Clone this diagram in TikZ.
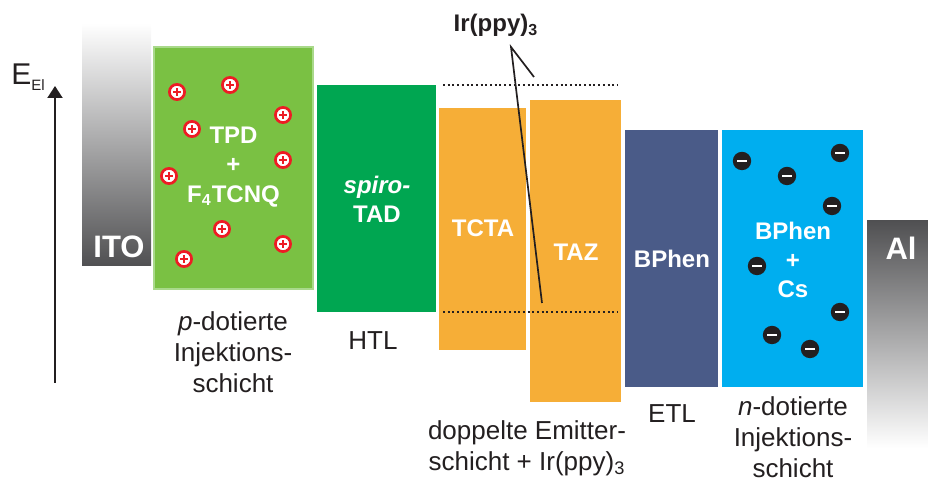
\documentclass[tikz,border=0pt]{standalone}
\usepackage{fontspec}
\setmainfont{Liberation Sans}
\usepackage{xcolor}
\usepackage{tikz}
\usetikzlibrary{arrows.meta}
\definecolor{ink}{HTML}{231F20}
\definecolor{injp}{HTML}{7AC143}
\definecolor{injpedge}{HTML}{A9D98B}
\definecolor{htl}{HTML}{00A651}
\definecolor{eml}{HTML}{F6AE37}
\definecolor{etl}{HTML}{4A5B88}
\definecolor{injn}{HTML}{00AEEF}
\definecolor{metal}{HTML}{505052}
\definecolor{charge}{HTML}{ED1C24}
\tikzset{
  ptype/.style={fill=injp, draw=injpedge, line width=0.6pt},
  inlab/.style={text=white, font=\fontsize{12}{14.6}\selectfont\bfseries, align=center, inner sep=0pt},
  ellab/.style={text=white, font=\fontsize{15.5}{18}\selectfont\bfseries, inner sep=0pt},
  lab/.style={text=ink, font=\fontsize{13}{15.5}\selectfont, align=center, inner sep=0pt},
  level/.style={draw=ink, line width=1pt, dash pattern=on 1pt off 1.35pt},
  pointer/.style={draw=ink, line width=0.85pt},
  axis/.style={draw=ink, line width=1pt, -{Triangle[width=7.5pt,length=6pt]}},
  hole/.style={circle, draw=charge, fill=white, line width=1.35pt, minimum size=7.6pt, inner sep=0pt,
    path picture={
      \draw[charge, line width=1pt]
        ([xshift=-2pt]path picture bounding box.center) -- ([xshift=2pt]path picture bounding box.center)
        ([yshift=-2pt]path picture bounding box.center) -- ([yshift=2pt]path picture bounding box.center);
    }},
  electron/.style={circle, fill=ink, minimum size=9.2pt, inner sep=0pt,
    path picture={
      \fill[white] ([xshift=-2.5pt,yshift=-0.7pt]path picture bounding box.center)
        rectangle ([xshift=2.5pt,yshift=0.7pt]path picture bounding box.center);
    }}
}

\begin{document}
\begin{tikzpicture}[x=0.5pt, y=-0.5pt]
  \useasboundingbox (0,0) rectangle (928,480);

  % energy axis
  \coordinate (ebot) at (55,383);
  \coordinate (etop) at (55,86);
  \draw[axis] (ebot) -- (etop);
  \node[text=ink, font=\fontsize{15}{17}\selectfont, anchor=base west, inner sep=0pt] (elab) at (11,85)
    {E{\fontsize{7.5}{8}\selectfont\raisebox{-3pt}{El}}};

  % electrodes
  \shade[top color=white, bottom color=metal] (82,23) rectangle (151,266);
  \shade[top color=metal, bottom color=white] (867,221) rectangle (928,448);
  \node[ellab] (ito) at (119,247) {ITO};
  \node[ellab] (al) at (901,248) {Al};

  % organic layers
  \fill[ptype] (154,47) rectangle (313,289);
  \fill[htl] (317,85) rectangle (436,312);
  \fill[eml] (439,108) rectangle (526,350);
  \fill[eml] (530,100) rectangle (621,402);
  \fill[etl] (625,130) rectangle (718,387);
  \fill[injn] (722,130) rectangle (863,387);

  \node[inlab] (tpd) at (233.5,167) {TPD\\+\\F\textsubscript{4}TCNQ};
  \node[inlab] (spiro) at (377,199) {\itshape spiro-\\TAD};
  \node[inlab] (tcta) at (483,228) {TCTA};
  \node[inlab] (taz) at (576,252) {TAZ};
  \node[inlab] (bphen) at (672,259) {BPhen};
  \node[inlab] (bphencs) at (793,260) {BPhen\\+\\Cs};

  % dopant charges
  \foreach \p [count=\i] in {(177,92),(230,85),(283,115),(192,129),(283,160),
                             (169,176),(222,229),(283,244),(184,259)}
    \node[hole] (h\i) at \p {};
  \foreach \p [count=\i] in {(742,161),(840,153),(787,176),(832,206),
                             (757,266),(840,312),(772,335),(810,349)}
    \node[electron] (e\i) at \p {};

  % Ir(ppy)3 levels
  \draw[level] (443,85) -- (617,85);
  \draw[level] (443,312) -- (617,312);
  \node[text=ink, font=\fontsize{12}{14}\selectfont\bfseries, anchor=base, inner sep=0pt] (irlab) at (496,32)
    {Ir(ppy)\textsubscript{3}};
  \coordinate (irapex) at (511,47);
  \coordinate (irhomo) at (534,77);
  \coordinate (irlumo) at (542,303);
  \draw[pointer] (irhomo) -- (irapex) -- (irlumo);

  % layer names
  \node[lab] (pinj) at (233,352) {\textit{p}-dotierte\\Injektions-\\schicht};
  \node[lab] (htlname) at (373,341) {HTL};
  \node[lab] (emlname) at (527,448) {doppelte Emitter-\\schicht + Ir(ppy)\textsubscript{3}};
  \node[lab] (etlname) at (672,414) {ETL};
  \node[lab] (ninj) at (793,437) {\textit{n}-dotierte\\Injektions-\\schicht};
\end{tikzpicture}
\end{document}
